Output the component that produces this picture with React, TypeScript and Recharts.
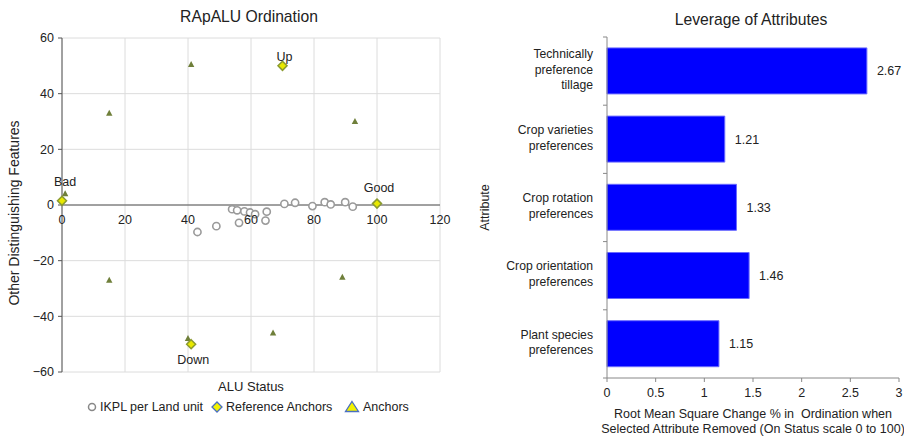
import React from 'react';
import {
  Bar,
  BarChart,
  CartesianGrid,
  LabelList,
  ReferenceLine,
  Scatter,
  ScatterChart,
  XAxis,
  YAxis,
} from 'recharts';

const FONT = '"Liberation Sans", Arial, Helvetica, sans-serif';
const INK = '#222';

// ---- RApALU ordination (left) ----
const ikplX = [43, 49, 54, 55.6, 57.9, 56.2, 59.7, 61.3, 65, 64.6, 70.6, 74, 79.5, 83.4, 85.3, 89.9, 92.3];
const ikplY = [-9.7, -7.6, -1.5, -1.9, -2.3, -6.4, -2.7, -3.3, -2.4, -5.6, 0.4, 0.8, -0.4, 1, 0.2, 1, -0.6];
const refNames = ['Bad', 'Up', 'Good', 'Down'];
const refX = [0, 70, 100, 41];
const refY = [1.5, 50, 0.5, -50];
const anchorX = [1, 15, 41, 70, 93, 100, 89, 67, 40, 15];
const anchorY = [4, 33, 50.5, 50.5, 30, 1, -26, -46, -48, -27];
const aluTicks = [0, 20, 40, 60, 80, 100, 120];
const featureTicks = [-60, -40, -20, 0, 20, 40, 60];

// ---- Leverage of attributes (right) ----
const attributes = [
  'Technically\npreference\ntillage',
  'Crop varieties\npreferences',
  'Crop rotation\npreferences',
  'Crop orientation\npreferences',
  'Plant species\npreferences',
];
const leverage = [2.67, 1.21, 1.33, 1.46, 1.15];
const leverageTicks = [0, 0.5, 1, 1.5, 2, 2.5, 3];

// label offsets for the named reference anchors (px from the marker)
const refLabelDy: Record<string, number> = { Bad: -19, Up: -9, Good: -16, Down: 16 };

const L_W = 460;
const L_H = 436;
const L_MARGIN = { top: 38, right: 20, bottom: 46, left: 8 };
const L_XAXIS_H = 18;
const L_PLOT_H = L_H - L_MARGIN.top - L_MARGIN.bottom - L_XAXIS_H;

const R_W = 444;
const R_H = 436;
const R_MARGIN = { top: 37, right: 5, bottom: 0, left: 8 };
const R_XAXIS_H = 58;
const R_PLOT_H = R_H - R_MARGIN.top - R_MARGIN.bottom - R_XAXIS_H;
const R_BAND = R_PLOT_H / attributes.length;

const minus = (v: number) => String(v).replace('-', '\u2212');

const ikpl = ikplX.map((x, i) => ({ x, y: ikplY[i] }));
const refs = refX.map((x, i) => ({ x, y: refY[i], name: refNames[i] }));
const anchors = anchorX.map((x, i) => ({ x, y: anchorY[i] }));
const barData = attributes.map((name, i) => ({ name, value: leverage[i] }));

// x tick labels sit on the y = 0 crossing rather than the bottom edge
const AluTick = ({ x, y, payload }: any) => (
  <text x={x} y={y - L_PLOT_H / 2 + 10} dy="0.71em" textAnchor="middle" fontSize={12.5} fill={INK} fontFamily={FONT}>
    {payload.value}
  </text>
);

const FeatureLabel = ({ viewBox }: any) => {
  const cx = 14;
  const cy = viewBox.y + viewBox.height / 2 + 8;
  return (
    <text
      x={cx}
      y={cy}
      transform={`rotate(-90 ${cx} ${cy})`}
      textAnchor="middle"
      dominantBaseline="central"
      fontSize={14}
      fill={INK}
      fontFamily={FONT}
    >
      Other Distinguishing Features
    </text>
  );
};

const Ring = ({ cx, cy }: any) => (
  <circle cx={cx} cy={cy} r={3.6} fill="#fff" stroke="#9a9a9a" strokeWidth={1.6} />
);

const SmallTri = ({ cx, cy }: any) => (
  <polygon points={`${cx},${cy - 3.5} ${cx + 3.2},${cy + 2.5} ${cx - 3.2},${cy + 2.5}`} fill="#6f7f3a" />
);

const RefDiamond = ({ cx, cy, payload }: any) => (
  <g>
    <polygon
      points={`${cx},${cy - 4.5} ${cx + 4.5},${cy} ${cx},${cy + 4.5} ${cx - 4.5},${cy}`}
      fill="#e8e800"
      stroke="#8a9a30"
      strokeWidth={1.5}
    />
    <text
      x={payload.name === 'Bad' ? cx + 3 : cx + 2}
      y={cy + (refLabelDy[payload.name] ?? -14)}
      dominantBaseline="central"
      textAnchor="middle"
      fontSize={12.5}
      fill={INK}
      fontFamily={FONT}
    >
      {payload.name}
    </text>
  </g>
);

const AttrTick = ({ x, y, payload, index }: any) => {
  const lines: string[] = String(payload.value).split('\n');
  const lh = 15.5;
  const y0 = y - 1.5 - ((lines.length - 1) * lh) / 2;
  return (
    <g>
      <line x1={x - 4} x2={x} y1={y - R_BAND / 2} y2={y - R_BAND / 2} stroke="#888" />
      {index === attributes.length - 1 && (
        <line x1={x - 4} x2={x} y1={y + R_BAND / 2} y2={y + R_BAND / 2} stroke="#888" />
      )}
      <text textAnchor="end" fontSize={12.2} fill={INK} fontFamily={FONT}>
        {lines.map((ln, i) => (
          <tspan key={i} x={x - 14} y={y0 + i * lh} dominantBaseline="central">
            {ln}
          </tspan>
        ))}
      </text>
    </g>
  );
};

const RmsLabel = ({ viewBox }: any) => {
  const cx = viewBox.x + viewBox.width / 2;
  return (
    <text textAnchor="middle" fontSize={12.5} fill={INK} fontFamily={FONT}>
      <tspan x={cx} y={viewBox.y + 40}>Root Mean Square Change % in{'\u00a0 '}Ordination when</tspan>
      <tspan x={cx} y={viewBox.y + 55}>Selected Attribute Removed (On Status scale 0 to 100)</tspan>
    </text>
  );
};

const legendText: React.CSSProperties = {
  position: 'absolute',
  top: 0,
  fontFamily: FONT,
  fontSize: 12.5,
  color: INK,
  lineHeight: '16px',
  whiteSpace: 'nowrap',
};

export default function App() {
  const titleStyle: React.CSSProperties = {
    position: 'absolute',
    fontFamily: FONT,
    fontSize: 15.7,
    color: INK,
    textAlign: 'center',
    lineHeight: '18px',
  };
  return (
    <div style={{ position: 'absolute', left: 0, top: 0, width: 904, height: 436, background: '#fff' }}>
      <div style={{ ...titleStyle, left: 60, width: 378, top: 8 }}>RApALU Ordination</div>
      <div style={{ ...titleStyle, left: 605, width: 292, top: 11 }}>Leverage of Attributes</div>

      <div style={{ position: 'absolute', left: 0, top: 0 }}>
        <ScatterChart width={L_W} height={L_H} margin={L_MARGIN}>
          <CartesianGrid stroke="#dcdcdc" />
          <XAxis
            type="number"
            dataKey="x"
            domain={[0, 120]}
            ticks={aluTicks}
            height={L_XAXIS_H}
            axisLine={false}
            tickLine={false}
            tickSize={0}
            tickMargin={0}
            tick={<AluTick />}
            label={{ value: 'ALU Status', position: 'insideBottom', offset: -1, fontSize: 13, fill: INK, fontFamily: FONT }}
          />
          <YAxis
            type="number"
            dataKey="y"
            domain={[-60, 60]}
            ticks={featureTicks}
            width={54}
            tickFormatter={minus}
            tick={{ fontSize: 12.5, fill: INK, fontFamily: FONT }}
            tickSize={4}
            tickMargin={4}
            stroke="#555"
            label={<FeatureLabel />}
          />
          <ReferenceLine y={0} stroke="#555" strokeWidth={1.2} />
          <Scatter name="Anchors" data={anchors} shape={<SmallTri />} isAnimationActive={false} />
          <Scatter name="Reference Anchors" data={refs} shape={<RefDiamond />} isAnimationActive={false} />
          <Scatter name="IKPL per Land unit" data={ikpl} shape={<Ring />} isAnimationActive={false} />
        </ScatterChart>
      </div>

      {/* legend */}
      <div style={{ position: 'absolute', left: 0, top: 399, width: 460, height: 16 }}>
        <svg width={460} height={16} style={{ position: 'absolute', left: 0, top: 0 }}>
          <circle cx={92} cy={8} r={3.5} fill="#fff" stroke="#888" strokeWidth={1.5} />
          <polygon points="217,3 222,8 217,13 212,8" fill="#f2f200" stroke="#4a6fc0" strokeWidth={1.3} />
          <polygon points="352,2.5 358.5,12.5 345.5,12.5" fill="#f2f200" stroke="#4a6fc0" strokeWidth={1.3} />
        </svg>
        <span style={{ ...legendText, left: 100 }}>IKPL per Land unit</span>
        <span style={{ ...legendText, left: 226 }}>Reference Anchors</span>
        <span style={{ ...legendText, left: 363 }}>Anchors</span>
      </div>

      <div style={{ position: 'absolute', left: 460, top: 0 }}>
        <BarChart width={R_W} height={R_H} data={barData} layout="vertical" margin={R_MARGIN} barCategoryGap="16%">
          <XAxis
            type="number"
            domain={[0, 3]}
            ticks={leverageTicks}
            height={R_XAXIS_H}
            stroke="#888"
            tickSize={4}
            tickMargin={6}
            tick={{ fontSize: 12.5, fill: INK, fontFamily: FONT }}
            label={<RmsLabel />}
          />
          <YAxis
            type="category"
            dataKey="name"
            width={139}
            stroke="#888"
            tickLine={false}
            tickSize={0}
            tickMargin={0}
            tick={<AttrTick />}
            interval={0}
            label={{
              value: 'Attribute',
              angle: -90,
              position: 'insideLeft',
              offset: 17,
              fontSize: 12.5,
              fill: INK,
              fontFamily: FONT,
              style: { textAnchor: 'middle' },
            }}
          />
          <Bar dataKey="value" fill="#0000ff" stroke="#6a6aff" strokeWidth={1} isAnimationActive={false}>
            <LabelList dataKey="value" position="right" offset={10} fontSize={12.5} fill={INK} fontFamily={FONT} />
          </Bar>
        </BarChart>
      </div>
    </div>
  );
}
